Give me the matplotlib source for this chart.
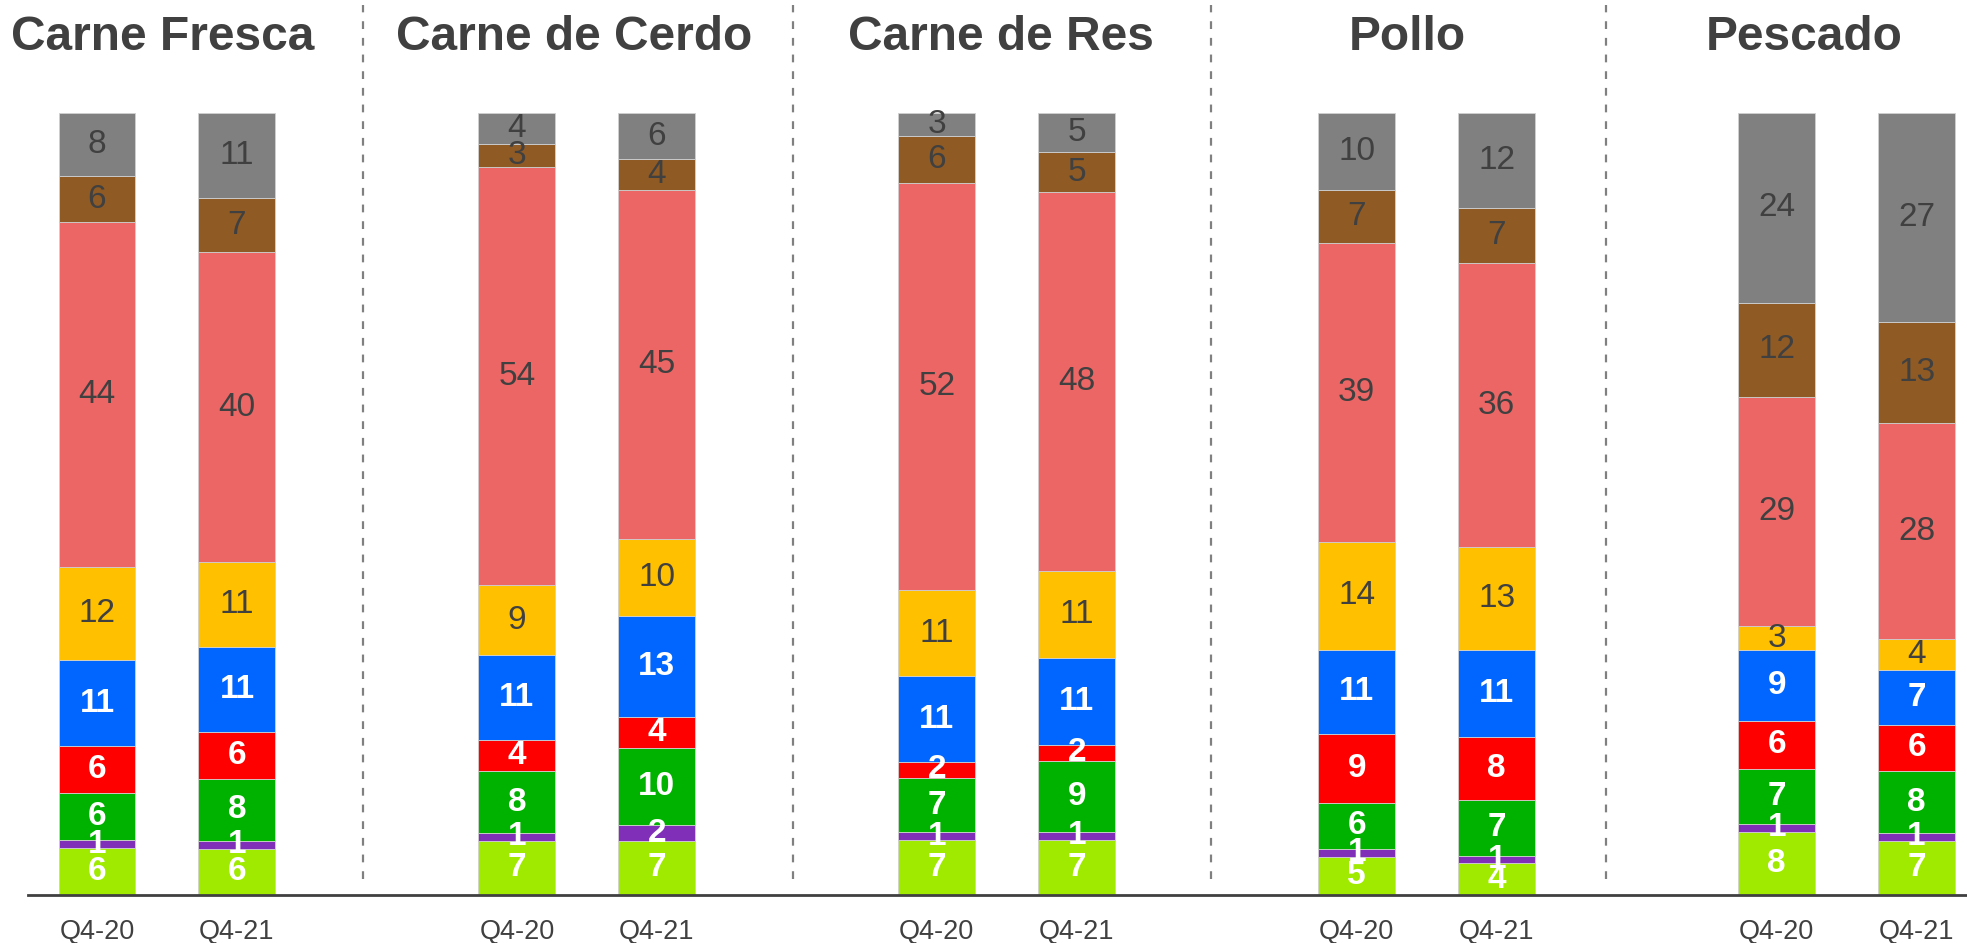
import matplotlib
matplotlib.use("Agg")
import matplotlib.pyplot as plt
import numpy as np

plt.rcParams['font.family'] = ['Liberation Sans', 'DejaVu Sans']

# categorias y periodos
groups = ["Carne Fresca", "Carne de Cerdo", "Carne de Res", "Pollo", "Pescado"]
periods = ["Q4-20", "Q4-21"]

# segmentos de abajo hacia arriba
segment_colors = ["#A0EA00", "#8030B8", "#00B200", "#FF0000", "#0066FF",
                  "#FFC000", "#EC6666", "#8F5A24", "#808080"]
light_text = [True, True, True, True, True, False, False, False, False]

# valores (%) por barra, de abajo hacia arriba
carne_fresca = [[6, 1, 6, 6, 11, 12, 44, 6, 8],
                [6, 1, 8, 6, 11, 11, 40, 7, 11]]
carne_cerdo = [[7, 1, 8, 4, 11, 9, 54, 3, 4],
               [7, 2, 10, 4, 13, 10, 45, 4, 6]]
carne_res = [[7, 1, 7, 2, 11, 11, 52, 6, 3],
             [7, 1, 9, 2, 11, 11, 48, 5, 5]]
pollo = [[5, 1, 6, 9, 11, 14, 39, 7, 10],
         [4, 1, 7, 8, 11, 13, 36, 7, 12]]
pescado = [[8, 1, 7, 6, 9, 3, 29, 12, 24],
           [7, 1, 8, 6, 7, 4, 28, 13, 27]]

all_data = [carne_fresca, carne_cerdo, carne_res, pollo, pescado]

# layout
group_step = 3.0
bar_width = 0.55
separators = [1.9, 4.97, 7.96, 10.78]
title_shift = [-0.03, -0.09, -0.04, -0.14, -0.30]
dark = "#404040"

fig = plt.figure(figsize=(19.67, 9.43), dpi=100)
ax = fig.add_axes([28 / 1967, 48 / 943, 1 - 28 / 1967, 782 / 943])

tick_pos = []
tick_lab = []
for g, (name, data) in enumerate(zip(groups, all_data)):
    for p, vals in enumerate(data):
        x = g * group_step + p
        vals = np.array(vals, dtype=float)
        heights = vals / vals.sum() * 100
        bottoms = np.concatenate([[0], np.cumsum(heights)[:-1]])
        for k in range(len(vals)):
            ax.bar(x, heights[k], bottom=bottoms[k], width=bar_width,
                   color=segment_colors[k], edgecolor="#d0d0d0", linewidth=0.6)
            if light_text[k]:
                ax.text(x, bottoms[k] + heights[k] / 2, f"{int(vals[k])}",
                        ha="center", va="center", color="white",
                        fontsize=24, fontweight="bold")
            else:
                ax.text(x, bottoms[k] + heights[k] / 2, f"{int(vals[k])}",
                        ha="center", va="center", color=dark, fontsize=24)
        tick_pos.append(x)
        tick_lab.append(periods[p])
    ax.text(g * group_step + 0.5 + title_shift[g], 108.0, name, ha="center",
            va="baseline", fontsize=34.5, fontweight="bold", color=dark,
            clip_on=False)

for sx in separators:
    ax.plot([sx, sx], [2.0, 113.8], color="#808080", linestyle=(0, (3.5, 4)),
            linewidth=1.6, clip_on=False)

ax.set_xlim(-0.493, 13.36)
ax.set_ylim(0, 100)
ax.set_xticks(tick_pos)
ax.set_xticklabels(tick_lab, fontsize=19.5, color=dark)
ax.tick_params(axis="x", length=0, pad=17)
ax.set_yticks([])
for s in ["top", "right", "left"]:
    ax.spines[s].set_visible(False)
ax.spines["bottom"].set_color(dark)
ax.spines["bottom"].set_linewidth(2)

fig.savefig("out.png", dpi=100)
